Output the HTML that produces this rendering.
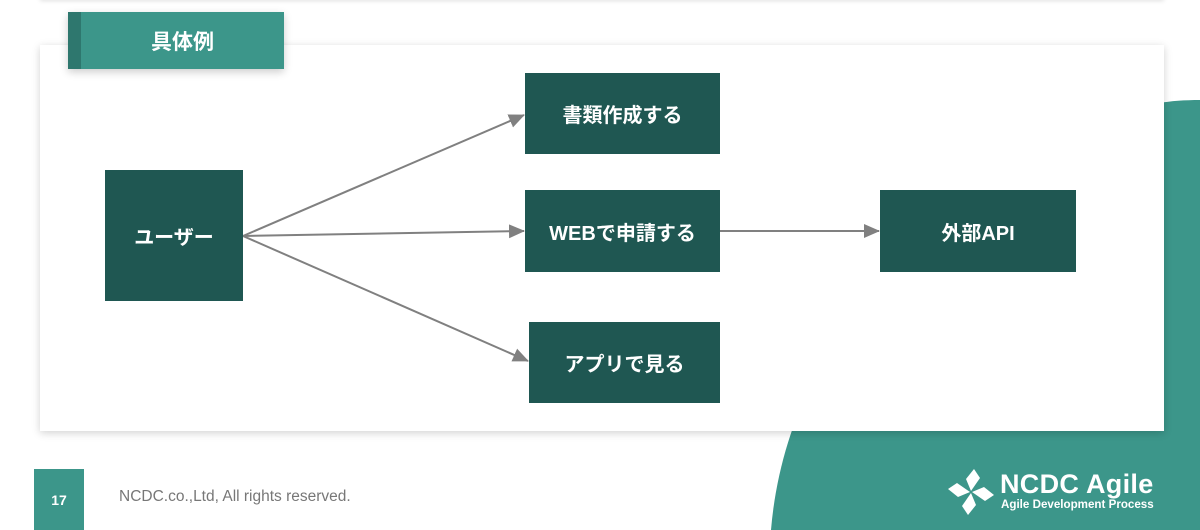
<!DOCTYPE html>
<html><head><meta charset="utf-8"><style>
body{margin:0;width:1200px;height:530px;overflow:hidden;background:#fff;position:relative;font-family:"Liberation Sans","Noto Sans CJK JP",sans-serif}
.a{position:absolute}
.n{position:absolute;background:#1f5752;color:#fff;font-weight:bold;font-size:20px;display:flex;align-items:center;justify-content:center}
</style></head><body>
<svg class="a" style="left:0;top:0" width="1200" height="530">
<path d="M1200,100 C1185,100 1170,101 1160,103 C1000,140 790,300 771,530 L1200,530 Z" fill="#3c968a"/>
</svg>
<div class="a" style="left:40px;top:-10px;width:1124px;height:10px;box-shadow:0 1px 4px rgba(0,0,0,0.12)"></div>
<div class="a" style="left:40px;top:45px;width:1124px;height:386px;background:#fff;box-shadow:0 2px 8px rgba(0,0,0,0.18)"></div>
<div class="a" style="left:68px;top:12px;width:216px;height:57px;background:#3c968a;box-shadow:0 3px 8px rgba(0,0,0,0.2)"></div>
<div class="a" style="left:68px;top:12px;width:13px;height:57px;background:#2e776e"></div>
<div class="a" style="left:81px;top:12px;width:203px;height:57px;color:#fff;font-weight:bold;font-size:21px;display:flex;align-items:center;justify-content:center">具体例</div>
<svg class="a" style="left:0;top:0" width="1200" height="530">
<defs><marker id="m" markerWidth="16" markerHeight="16" refX="15" refY="7" orient="auto" markerUnits="userSpaceOnUse"><path d="M0,0 L16,7 L0,14 z" fill="#808080"/></marker></defs>
<g stroke="#808080" stroke-width="2" fill="none" marker-end="url(#m)">
<line x1="243" y1="236" x2="524" y2="115"/>
<line x1="243" y1="236" x2="524" y2="231"/>
<line x1="243" y1="236" x2="528" y2="361"/>
<line x1="719" y1="231" x2="879" y2="231"/>
</g></svg>
<div class="n" style="left:105px;top:170px;width:138px;height:131px">ユーザー</div>
<div class="n" style="left:525px;top:73px;width:195px;height:81px">書類作成する</div>
<div class="n" style="left:525px;top:190px;width:195px;height:82px">WEBで申請する</div>
<div class="n" style="left:529px;top:322px;width:191px;height:81px">アプリで見る</div>
<div class="n" style="left:880px;top:190px;width:196px;height:82px">外部API</div>
<div class="a" style="left:34px;top:469px;width:50px;height:61px;background:#3c968a;color:#fff;font-weight:bold;font-size:14px;display:flex;align-items:center;justify-content:center">17</div>
<div class="a" style="left:119px;top:488px;color:#777;font-size:15.5px">NCDC.co.,Ltd, All rights reserved.</div>
<svg class="a" style="left:946px;top:467px" width="50" height="50" viewBox="0 0 50 50">
<g fill="#fff">
<path d="M25,24 L20,12 L28,2 L34,11 Z"/>
<path d="M26,25 L38,20 L48,28 L39,34 Z"/>
<path d="M25,26 L30,38 L22,48 L16,39 Z"/>
<path d="M24,25 L12,30 L2,22 L11,16 Z"/>
</g>
</svg>
<div class="a" style="left:1000px;top:469px;color:#fff;font-weight:bold;font-size:27px;letter-spacing:0.3px">NCDC Agile</div>
<div class="a" style="left:1001px;top:498px;color:#fff;font-weight:bold;font-size:11.6px">Agile Development Process</div>
</body></html>
